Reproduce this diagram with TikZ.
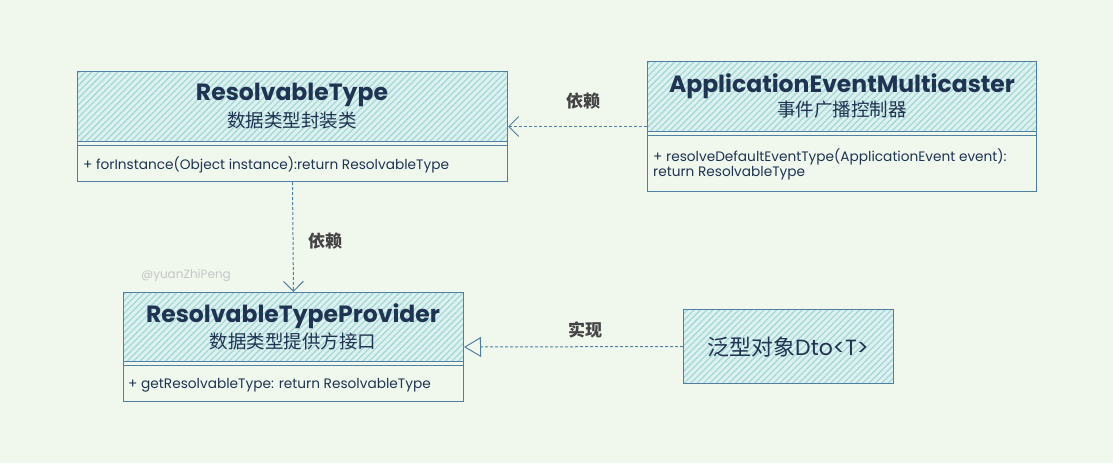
\documentclass[tikz,border=0pt]{standalone}
\usepackage{fontspec}
\setmainfont{Poppins}
\newfontfamily\cjk{Noto Sans CJK SC}
\usetikzlibrary{patterns.meta,arrows.meta}
\definecolor{bg}{HTML}{F0F8EE}
\definecolor{edge}{HTML}{4F7FA3}
\definecolor{hatchc}{HTML}{A6D8DA}
\definecolor{hfill}{HTML}{DDF1EF}
\definecolor{ink}{HTML}{1F3352}
\definecolor{lab}{HTML}{444444}
\begin{document}
\begin{tikzpicture}[x=1pt,y=-1pt,
  box/.style={draw=edge,line width=1pt,rectangle,inner sep=0pt,anchor=north west},
  hatch/.style={preaction={fill=hfill},preaction={pattern={Lines[angle=45,distance=4.5pt,line width=1.3pt]},pattern color=hatchc}},
  sep/.style={draw=edge,line width=1pt},
  title/.style={font=\fontsize{23.5}{26}\selectfont\bfseries,text=ink},
  sub/.style={font=\cjk\fontsize{18.5}{21}\selectfont,text=ink},
  body/.style={font=\fontsize{13.7}{16}\selectfont,text=ink,anchor=west,inner sep=0pt},
  lbl/.style={font=\cjk\fontsize{17}{19}\selectfont\bfseries,text=lab},
  dep/.style={draw=edge,line width=1pt,dash pattern=on 3pt off 2pt,-{Straight Barb[length=10pt,width=20pt,line width=1pt]}},
  impl/.style={draw=edge,line width=1pt,dash pattern=on 3pt off 2pt,-{Triangle[open,length=17pt,width=20pt,line width=1pt,fill=bg]}}
]
\fill[bg] (0,0) rectangle (1113,463);
\useasboundingbox (0,0) rectangle (1113,463);

% ResolvableType
\node[box,hatch,minimum width=430pt,minimum height=70pt] (rth) at (77,71) {};
\node[box,minimum width=430pt,minimum height=110pt] (rt) at (77,71) {};
\draw[sep] (77,145) -- (507,145);
\node[title] (rtt) at (292,95) {ResolvableType};
\node[sub] (rts) at (292,121) {数据类型封装类};
\node[body] (rtm) at (83,165) {+ forInstance(Object instance):return ResolvableType};

% ApplicationEventMulticaster
\node[box,hatch,minimum width=389pt,minimum height=70pt] (aemh) at (647,61) {};
\node[box,minimum width=389pt,minimum height=130pt] (aem) at (647,61) {};
\draw[sep] (647,135) -- (1036,135);
\node[title] (aemt) at (842,86) {ApplicationEventMulticaster};
\node[sub] (aems) at (842,110) {事件广播控制器};
\node[body] (aemm1) at (653,157) {+ resolveDefaultEventType(ApplicationEvent event):};
\node[body] (aemm2) at (653,173) {return ResolvableType};

% ResolvableTypeProvider
\node[box,hatch,minimum width=340pt,minimum height=69pt] (rtph) at (123,292) {};
\node[box,minimum width=340pt,minimum height=109pt] (rtp) at (123,292) {};
\draw[sep] (123,365) -- (463,365);
\node[title] (rtpt) at (293,316) {ResolvableTypeProvider};
\node[sub] (rtps) at (293,341) {数据类型提供方接口};
\node[body] (rtpm) at (128,385) {+ getResolvableType: return ResolvableType};

% Dto
\node[box,hatch,minimum width=210pt,minimum height=74pt] (dto) at (683,309) {};
\node[font=\fontsize{22}{25}\selectfont,text=ink] (dtot) at (788,347) {{\cjk 泛型对象}Dto<T>};

% watermark
\node[font=\fontsize{12}{14}\selectfont,text=gray!45] (wm) at (186,276) {@yuanZhiPeng};

% connectors
\draw[dep] (aem.west) -- (rt.east);
\draw[dep] (rt.south) -- (rtp.north);
\draw[impl] (dto.west) -- (rtp.east);

% labels
\node[lbl] (l1) at (583,101) {依赖};
\node[lbl] (l2) at (325,241) {依赖};
\node[lbl] (l3) at (585,330) {实现};
\end{tikzpicture}
\end{document}
